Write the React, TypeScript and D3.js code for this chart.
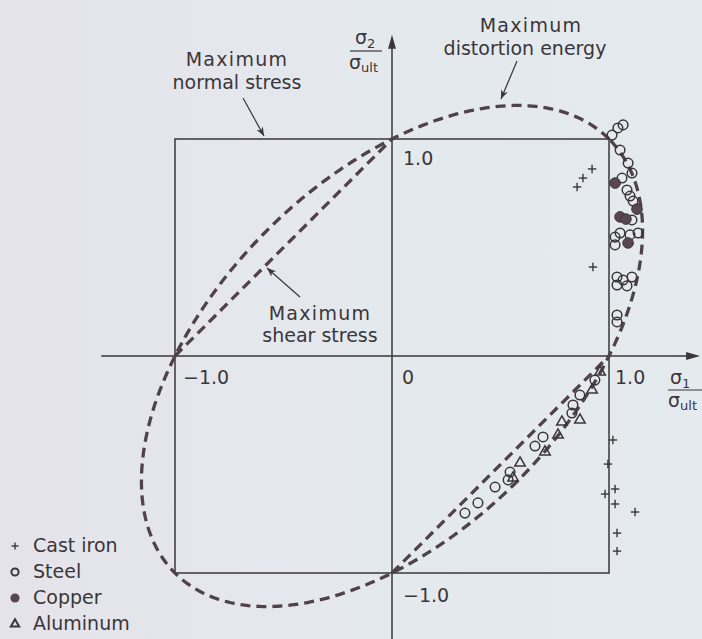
import React from 'react';
import * as d3 from 'd3';

const W = 702;
const H = 639;

// Test results normalized by ultimate strength: [σ1/σult, σ2/σult]
const castIron: [number, number][] = [
  [0.853, 0.779], [0.88, 0.82], [0.922, 0.862], [0.926, 0.41],
  [1.018, -0.387], [0.995, -0.498], [0.982, -0.636], [1.028, -0.613],
  [1.028, -0.682], [1.12, -0.719], [1.037, -0.816], [1.037, -0.899],
];

const steel: [number, number][] = [
  [1.065, 1.065], [1.041, 1.051], [1.014, 1.018], [1.051, 0.949],
  [1.088, 0.889], [1.106, 0.843], [1.06, 0.82], [1.083, 0.765],
  [1.097, 0.737], [1.111, 0.714], [1.106, 0.627], [1.028, 0.548],
  [1.051, 0.567], [1.097, 0.558], [1.134, 0.567], [1.028, 0.512],
  [1.037, 0.364], [1.065, 0.35], [1.106, 0.364], [1.037, 0.327],
  [1.083, 0.323], [1.037, 0.189], [1.037, 0.157],
  [0.935, -0.111], [0.866, -0.18], [0.834, -0.226], [0.829, -0.263],
  [0.696, -0.373], [0.659, -0.415], [0.544, -0.535], [0.535, -0.571],
  [0.475, -0.604], [0.396, -0.677], [0.336, -0.724],
];

const copper: [number, number][] = [
  [1.028, 0.797], [1.051, 0.641], [1.078, 0.631], [1.129, 0.677], [1.088, 0.521],
];

const aluminum: [number, number][] = [
  [0.959, -0.074], [0.922, -0.157], [0.866, -0.295], [0.783, -0.304],
  [0.765, -0.364], [0.705, -0.442], [0.59, -0.493], [0.558, -0.562],
];

const legendLabels = ['Cast iron', 'Steel', 'Copper', 'Aluminum'];

const xTicks = [
  { value: -1, label: '−1.0' },
  { value: 0, label: '0' },
  { value: 1, label: '1.0' },
];
const yTicks = [
  { value: 1, label: '1.0' },
  { value: -1, label: '−1.0' },
];

// Maximum normal stress: the unit square
const normalStress: [number, number][] = [[-1, -1], [1, -1], [1, 1], [-1, 1]];
// Maximum shear stress: hexagon edges that leave the square (2nd and 4th quadrants)
const shearEdges: [number, number][][] = [
  [[-1, 0], [0, 1]],
  [[0, -1], [1, 0]],
];

// Maximum distortion energy: σ1² − σ1σ2 + σ2² = 1
const distortion: [number, number][] = d3.range(0, 360).map((i) => {
  const t = (i / 360) * 2 * Math.PI;
  return [Math.cos(t) - Math.sin(t) / Math.sqrt(3), Math.cos(t) + Math.sin(t) / Math.sqrt(3)];
});

const BG = '#e4e9ee';
const INK = '#3b3639';
const DASH = '#4f4248';
const COPPER = '#5a4650';
const FONT = "'DejaVu Sans', sans-serif";

export default function App() {
  const x = d3.scaleLinear().domain([-1, 1]).range([175, 609]);
  const y = d3.scaleLinear().domain([-1, 1]).range([573, 139]);

  const line = d3
    .line<[number, number]>()
    .x((d) => x(d[0]))
    .y((d) => y(d[1]));
  const closed = d3
    .line<[number, number]>()
    .x((d) => x(d[0]))
    .y((d) => y(d[1]))
    .curve(d3.curveLinearClosed);

  const tri = d3.symbol().type(d3.symbolTriangle).size(48)();
  const triLegend = d3.symbol().type(d3.symbolTriangle).size(30)();

  const x0 = x(0);
  const y0 = y(0);
  const xAxisEnd = x(1.42);
  const yAxisTop = y(1.48);

  const plus = (cx: number, cy: number, s: number, key: string | number) => (
    <g key={key} stroke={INK} strokeWidth={1.4}>
      <line x1={cx - s} x2={cx + s} y1={cy} y2={cy} />
      <line x1={cx} x2={cx} y1={cy - s} y2={cy + s} />
    </g>
  );

  const textProps = { fontFamily: FONT, fontSize: 19, fill: INK };

  return (
    <svg
      width={W}
      height={H}
      viewBox={`0 0 ${W} ${H}`}
      style={{ position: 'absolute', left: 0, top: 0 }}
    >
      <defs>
        <linearGradient id="paper" x1="0" x2="1" y1="0" y2="0">
          <stop offset="0" stopColor="#e5e3ea" />
          <stop offset="0.5" stopColor={BG} />
          <stop offset="1" stopColor="#e5eaee" />
        </linearGradient>
        <marker id="tip" viewBox="0 0 10 10" refX="10" refY="5" markerWidth="9" markerHeight="9" markerUnits="userSpaceOnUse" orient="auto">
          <path d="M0,1 L10,5 L0,9 L3,5 Z" fill={INK} />
        </marker>
      </defs>
      <rect width={W} height={H} fill="url(#paper)" />

      {/* axes */}
      <g stroke={INK} strokeWidth={1.5}>
        <line x1={x(-1.34)} x2={xAxisEnd - 6} y1={y0} y2={y0} />
        <line x1={x0} x2={x0} y1={H} y2={yAxisTop + 6} />
      </g>
      <path d={`M${xAxisEnd},${y0} L${xAxisEnd - 14},${y0 - 4} L${xAxisEnd - 14},${y0 + 4} Z`} fill={INK} />
      <path d={`M${x0},${yAxisTop} L${x0 - 4},${yAxisTop + 14} L${x0 + 4},${yAxisTop + 14} Z`} fill={INK} />

      {/* maximum normal stress */}
      <path d={closed(normalStress) ?? ''} fill="none" stroke={INK} strokeWidth={1.5} />

      {/* maximum distortion energy */}
      <path d={closed(distortion) ?? ''} fill="none" stroke={DASH} strokeWidth={3.3} strokeDasharray="10 6" />

      {/* maximum shear stress */}
      {shearEdges.map((e, i) => (
        <path key={i} d={line(e) ?? ''} fill="none" stroke={DASH} strokeWidth={3.3} strokeDasharray="10 6" />
      ))}

      {/* data */}
      {castIron.map((d, i) => plus(x(d[0]), y(d[1]), 4.2, `c${i}`))}
      {steel.map((d, i) => (
        <circle key={`s${i}`} cx={x(d[0])} cy={y(d[1])} r={4.8} fill="none" stroke={INK} strokeWidth={1.5} />
      ))}
      {copper.map((d, i) => (
        <circle key={`k${i}`} cx={x(d[0])} cy={y(d[1])} r={5.3} fill={COPPER} stroke={INK} strokeWidth={1} />
      ))}
      {aluminum.map((d, i) => (
        <path key={`a${i}`} d={tri ?? ''} transform={`translate(${x(d[0])},${y(d[1])})`} fill="none" stroke={INK} strokeWidth={1.5} />
      ))}

      {/* tick labels */}
      {xTicks.map((t) => (
        <text key={t.label} x={x(t.value) + (t.value === 0 ? 10 : t.value < 0 ? 8 : 6)} y={y0 + 28} {...textProps}>
          {t.label}
        </text>
      ))}
      {yTicks.map((t) => (
        <text key={t.label} x={x0 + 11} y={y(t.value) + (t.value > 0 ? 26 : 29)} {...textProps}>
          {t.label}
        </text>
      ))}

      {/* axis titles */}
      <text x={355} y={44} {...textProps}>
        σ<tspan fontSize={13} dy={4}>2</tspan>
      </text>
      <line x1={350} x2={382} y1={51} y2={51} stroke={INK} strokeWidth={1.2} />
      <text x={349} y={69} {...textProps}>
        σ<tspan fontSize={13} dy={3}>ult</tspan>
      </text>

      <text x={670} y={384} {...textProps}>
        σ<tspan fontSize={13} dy={4}>1</tspan>
      </text>
      <line x1={668} x2={702} y1={390} y2={390} stroke={INK} strokeWidth={1.2} />
      <text x={668} y={407} {...textProps}>
        σ<tspan fontSize={13} dy={3}>ult</tspan>
      </text>

      {/* annotations */}
      <g {...textProps} textAnchor="middle">
        <text x={237} y={66} letterSpacing={1.3}>Maximum</text>
        <text x={237} y={89}>normal stress</text>
        <text x={531} y={32} letterSpacing={1.3}>Maximum</text>
        <text x={525} y={55}>distortion energy</text>
        <text x={320} y={320} letterSpacing={1.3}>Maximum</text>
        <text x={320} y={342}>shear stress</text>
      </g>
      <g stroke={INK} strokeWidth={1.2} fill="none">
        <line x1={243} y1={98} x2={264} y2={136} markerEnd="url(#tip)" />
        <line x1={517} y1={61} x2={501} y2={99} markerEnd="url(#tip)" />
        <line x1={300} y1={297} x2={267} y2={268} markerEnd="url(#tip)" />
      </g>

      {/* legend */}
      {legendLabels.map((label, i) => {
        const cy = 546 + i * 26;
        let mark: React.ReactNode;
        if (i === 0) mark = plus(15, cy, 3.5, 'lp');
        else if (i === 1) mark = <circle cx={15} cy={cy} r={3.6} fill="none" stroke={INK} strokeWidth={2} />;
        else if (i === 2) mark = <circle cx={15} cy={cy} r={4.6} fill={COPPER} />;
        else mark = <path d={triLegend ?? ''} transform={`translate(15,${cy})`} fill="none" stroke={INK} strokeWidth={2} />;
        return (
          <g key={label}>
            {mark}
            <text x={33} y={cy + 6} {...textProps}>
              {label}
            </text>
          </g>
        );
      })}
    </svg>
  );
}
